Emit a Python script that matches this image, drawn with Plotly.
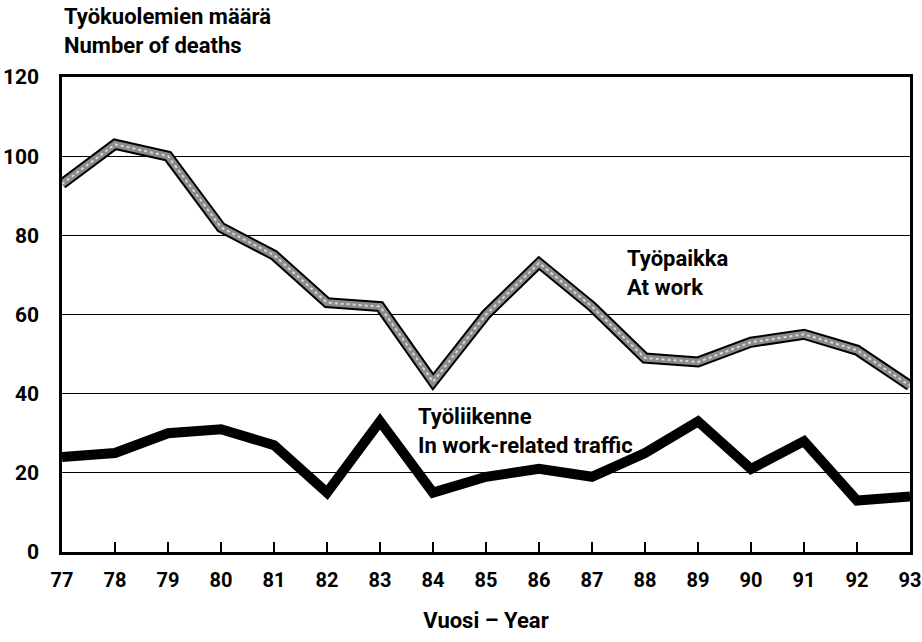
import plotly.graph_objects as go

years = list(range(77, 94))
tick_labels = [str(y) for y in years]
at_work = [93, 103, 100, 82, 75, 63, 62, 43, 60, 73, 62, 49, 48, 53, 55, 51, 42]
traffic = [24, 25, 30, 31, 27, 15, 33, 15, 19, 21, 19, 25, 33, 21, 28, 13, 14]

FONT = "Roboto, Liberation Sans Narrow, DejaVu Sans Condensed, sans-serif"

fig = go.Figure()
# At work: black outline with grey stippled core
fig.add_trace(go.Scatter(x=years, y=at_work, mode="lines",
                         line=dict(color="black", width=11),
                         hoverinfo="skip", showlegend=False))
fig.add_trace(go.Scatter(x=years, y=at_work, mode="lines",
                         line=dict(color="#8a8a8a", width=7),
                         hoverinfo="skip", showlegend=False))
fig.add_trace(go.Scatter(x=years, y=at_work, mode="lines",
                         line=dict(color="#d8d8d8", width=2, dash="dot"),
                         hoverinfo="skip", showlegend=False))
# Work-related traffic: thick black
fig.add_trace(go.Scatter(x=years, y=traffic, mode="lines",
                         line=dict(color="black", width=10),
                         hoverinfo="skip", showlegend=False))

fig.update_layout(
    width=922, height=642,
    margin=dict(l=62, r=12, t=77, b=90),
    plot_bgcolor="white", paper_bgcolor="white",
    font=dict(family=FONT, size=21, color="black"),
    showlegend=False,
)
fig.update_xaxes(
    range=[77, 93], tickmode="array", tickvals=years, ticktext=tick_labels,
    ticks="inside", ticklen=10, tickwidth=1.5, tickcolor="black",
    showgrid=False, zeroline=False, automargin=False,
    showline=True, linewidth=2.5, linecolor="black", mirror=True,
    tickfont=dict(family=FONT, size=20, color="black", weight="bold"),
    ticklabelstandoff=8,
    title=dict(text="<b>Vuosi – Year</b>", font=dict(family=FONT, size=22), standoff=22),
)
fig.update_yaxes(
    range=[0, 120], tickvals=[0, 20, 40, 60, 80, 100, 120],
    ticks="", showgrid=True, gridcolor="black", gridwidth=1.3,
    zeroline=False, automargin=False,
    showline=True, linewidth=2.5, linecolor="black", mirror=True,
    tickfont=dict(family=FONT, size=21, color="black", weight="bold"),
    ticklabelstandoff=16,
)

fig.add_annotation(xref="paper", yref="paper", x=0, y=1, xanchor="left", yanchor="bottom",
                   yshift=17, text="<b>Työkuolemien määrä<br>Number of deaths</b>",
                   showarrow=False, align="left", font=dict(family=FONT, size=22))
fig.add_annotation(x=87.63, y=70.5, xanchor="left", yanchor="middle",
                   text="<b>Työpaikka<br>At work</b>", showarrow=False, align="left",
                   font=dict(family=FONT, size=22))
fig.add_annotation(x=83.67, y=30.5, xanchor="left", yanchor="middle",
                   text="<b>Työliikenne<br>In work-related traffic</b>", showarrow=False, align="left",
                   font=dict(family=FONT, size=22))

fig.write_html("out.html", config={"displayModeBar": False},
               post_script="document.body.style.margin='0';")
